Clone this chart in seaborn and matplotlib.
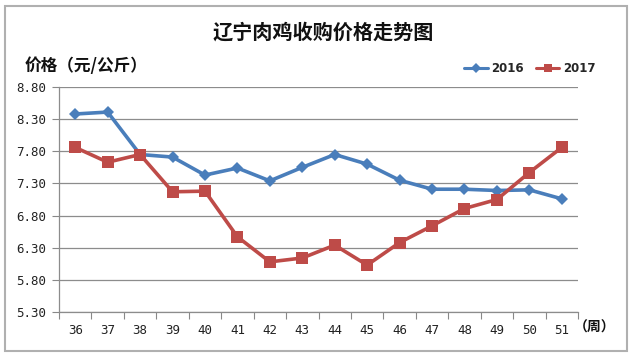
import matplotlib
matplotlib.use("Agg")
import matplotlib.pyplot as plt
import seaborn as sns
import pandas as pd
from matplotlib.patches import Rectangle
from matplotlib.ticker import FixedLocator, NullFormatter
from matplotlib.lines import Line2D

weeks = [36, 37, 38, 39, 40, 41, 42, 43, 44, 45, 46, 47, 48, 49, 50, 51]
price_2016 = [8.38, 8.41, 7.75, 7.71, 7.43, 7.54, 7.34, 7.55, 7.75, 7.60, 7.35, 7.21, 7.21, 7.19, 7.20, 7.06]
price_2017 = [7.86, 7.63, 7.75, 7.17, 7.18, 6.47, 6.08, 6.14, 6.34, 6.03, 6.38, 6.64, 6.91, 7.05, 7.47, 7.86]
y_ticks = [5.30, 5.80, 6.30, 6.80, 7.30, 7.80, 8.30, 8.80]
title = "辽宁肉鸡收购价格走势图"
y_label = "价格（元/公斤）"
x_unit = "（周）"

sns.set_theme(style="white")
plt.rcParams['font.family'] = ['Noto Sans CJK SC', 'DejaVu Sans']

fig = plt.figure(figsize=(6.34, 3.57), dpi=100)
ax = fig.add_axes([59/634, 1-312/357, 519/634, 225/357])

df = pd.DataFrame({"week": weeks * 2,
                   "price": price_2016 + price_2017,
                   "year": ["2016"] * len(weeks) + ["2017"] * len(weeks)})

c16 = "#4A7EBB"
c17 = "#BE4B48"
sns.lineplot(data=df, x="week", y="price", hue="year", style="year",
             palette={"2016": c16, "2017": c17},
             markers={"2016": "D", "2017": "s"}, dashes=False,
             markersize=6, linewidth=2.6, ax=ax, legend=False,
             markeredgewidth=0)
for ln in ax.lines:
    if ln.get_marker() == "s":
        ln.set_markersize(8)

ax.set_xlim(35.5, 51.5)
ax.set_ylim(5.30, 8.80)
ax.set_yticks(y_ticks)
ax.set_yticklabels([f"{v:.2f}" for v in y_ticks], family="DejaVu Sans Mono", fontsize=9, color="#222222")
ax.set_xticks(weeks)
ax.set_xticklabels([str(w) for w in weeks], family="DejaVu Sans Mono", fontsize=9, color="#222222")
ax.xaxis.set_minor_locator(FixedLocator([35.5 + i for i in range(17)]))
ax.xaxis.set_minor_formatter(NullFormatter())
ax.tick_params(axis="x", which="major", length=0, pad=9)
ax.tick_params(axis="x", which="minor", length=5, width=0.8, color="#888888", direction="out", bottom=True)
ax.tick_params(axis="y", length=5, width=0.8, color="#888888", direction="out", left=True, pad=4)
ax.grid(axis="y", color="#8c8c8c", linewidth=0.9)
ax.set_axisbelow(True)
for s in ["top", "right"]:
    ax.spines[s].set_visible(False)
for s in ["left", "bottom"]:
    ax.spines[s].set_color("#8c8c8c")
    ax.spines[s].set_linewidth(0.9)
ax.set_xlabel("")
ax.set_ylabel("")

fig.text(323/634, 1-32/357, title, ha="center", va="center", fontsize=14.5, fontweight="bold", color="#111111")
fig.text(25/634, 1-66/357, y_label, ha="left", va="center", fontsize=12, fontweight="bold", color="#111111")
fig.text(574/634, 1-328/357, x_unit, ha="left", va="center", fontsize=10, fontweight="bold", color="#111111")

handles = [Line2D([], [], color=c16, marker="D", markersize=5, linewidth=2.2, markeredgewidth=0),
           Line2D([], [], color=c17, marker="s", markersize=6, linewidth=2.2, markeredgewidth=0)]
fig.legend(handles, ["2016", "2017"], loc="center right", bbox_to_anchor=(606/634, 1-69/357),
           ncol=2, frameon=False, handlelength=2.0, handletextpad=0.3, columnspacing=1.0,
           prop={"family": "DejaVu Sans", "weight": "bold", "size": 8.5})

fig.patches.append(Rectangle((5/634, 6/357), 622/634, 345/357, transform=fig.transFigure,
                             fill=False, edgecolor="#b0b0b0", linewidth=1.5))

fig.savefig("out.png", dpi=100)
